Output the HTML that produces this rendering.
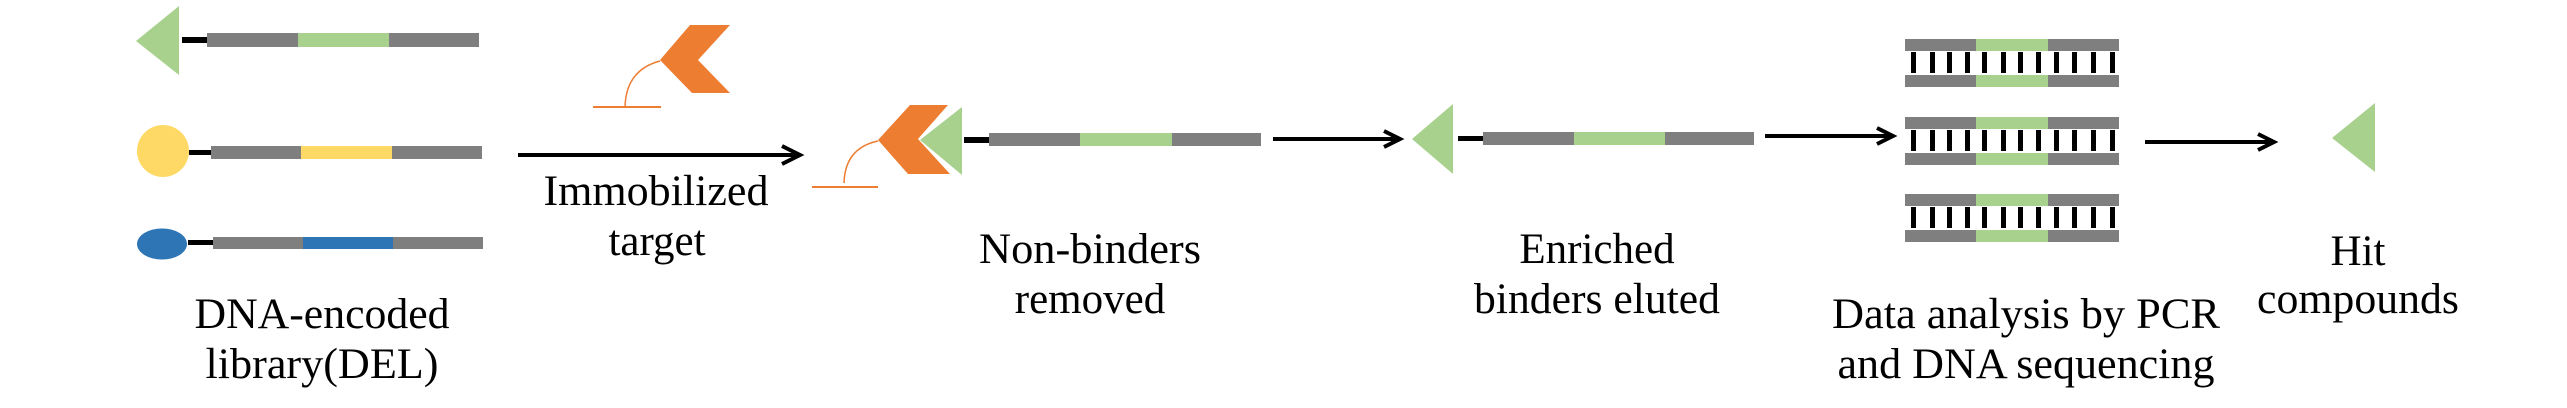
<!DOCTYPE html>
<html><head><meta charset="utf-8"><style>
html,body{margin:0;padding:0;background:#fff;}
svg{display:block;}
svg text{font-family:"Liberation Serif","Times New Roman",Times,"DejaVu Serif",serif !important;}
</style></head><body>
<svg width="2567" height="408" viewBox="0 0 2567 408" xmlns="http://www.w3.org/2000/svg">
<!-- Library -->
<polygon points="136,41 179,6 179,75" fill="#a9d18e"/>
<rect x="182" y="37" width="25" height="6" fill="#000"/>
<rect x="207" y="33" width="91" height="14" fill="#7f7f7f"/>
<rect x="298" y="33" width="91" height="14" fill="#a9d18e"/>
<rect x="389" y="33" width="90" height="14" fill="#7f7f7f"/>

<ellipse cx="163" cy="151" rx="26" ry="26" fill="#ffd966"/>
<rect x="189" y="150" width="22" height="5" fill="#000"/>
<rect x="211" y="146" width="90" height="13" fill="#7f7f7f"/>
<rect x="301" y="146" width="91" height="13" fill="#ffd966"/>
<rect x="392" y="146" width="90" height="13" fill="#7f7f7f"/>

<ellipse cx="162" cy="244" rx="25" ry="15.5" fill="#2e75b6"/>
<rect x="188" y="240" width="25" height="5" fill="#000"/>
<rect x="213" y="237" width="90" height="12" fill="#7f7f7f"/>
<rect x="303" y="237" width="90" height="12" fill="#2e75b6"/>
<rect x="393" y="237" width="90" height="12" fill="#7f7f7f"/>

<!-- Immobilized target -->
<polygon points="690,25 730,25 698,60 730,93 692,93 660,60" fill="#ed7d31"/>
<path d="M660,61 Q626,70 625,107" fill="none" stroke="#ed7d31" stroke-width="1.5"/>
<line x1="593" y1="107" x2="661" y2="107" stroke="#ed7d31" stroke-width="2"/>

<line x1="518" y1="155" x2="797" y2="155" stroke="#000" stroke-width="4"/>
<path d="M782,146 L800,155 L782,164" fill="none" stroke="#000" stroke-width="4"/>

<!-- Bound -->
<polygon points="910,105 948,105 918,139 950,174 908,174 878,140" fill="#ed7d31"/>
<polygon points="920,140 962,107 962,175" fill="#a9d18e"/>
<path d="M878,141 Q845,148 844,183" fill="none" stroke="#ed7d31" stroke-width="1.5"/>
<line x1="812" y1="187" x2="878" y2="187" stroke="#ed7d31" stroke-width="2"/>
<rect x="964" y="137" width="25" height="6" fill="#000"/>
<rect x="989" y="133" width="91" height="13" fill="#7f7f7f"/>
<rect x="1080" y="133" width="92" height="13" fill="#a9d18e"/>
<rect x="1172" y="133" width="89" height="13" fill="#7f7f7f"/>

<line x1="1273" y1="139" x2="1398" y2="139" stroke="#000" stroke-width="4"/>
<path d="M1384,131 L1400,139 L1384,147" fill="none" stroke="#000" stroke-width="4"/>

<!-- Eluted -->
<polygon points="1412,139 1453,104 1453,174" fill="#a9d18e"/>
<rect x="1458" y="136" width="25" height="5" fill="#000"/>
<rect x="1483" y="132" width="91" height="13" fill="#7f7f7f"/>
<rect x="1574" y="132" width="91" height="13" fill="#a9d18e"/>
<rect x="1665" y="132" width="89" height="13" fill="#7f7f7f"/>

<line x1="1765" y1="136" x2="1891" y2="136" stroke="#000" stroke-width="4"/>
<path d="M1877,128 L1893,136 L1877,144" fill="none" stroke="#000" stroke-width="4"/>

<!-- Duplexes -->
<g id="dup">
<rect x="1905" y="39" width="71" height="12" fill="#7f7f7f"/>
<rect x="1976" y="39" width="72" height="12" fill="#a9d18e"/>
<rect x="2048" y="39" width="71" height="12" fill="#7f7f7f"/>
<rect x="1905" y="75" width="71" height="12" fill="#7f7f7f"/>
<rect x="1976" y="75" width="72" height="12" fill="#a9d18e"/>
<rect x="2048" y="75" width="71" height="12" fill="#7f7f7f"/>
<g fill="#000">
<rect x="1911" y="52" width="5" height="21"/><rect x="1930" y="52" width="5" height="21"/>
<rect x="1947" y="52" width="5" height="21"/><rect x="1965" y="52" width="5" height="21"/>
<rect x="1982" y="52" width="5" height="21"/><rect x="2001" y="52" width="5" height="21"/>
<rect x="2018" y="52" width="5" height="21"/><rect x="2036" y="52" width="5" height="21"/>
<rect x="2054" y="52" width="5" height="21"/><rect x="2072" y="52" width="5" height="21"/>
<rect x="2091" y="52" width="5" height="21"/><rect x="2110" y="52" width="5" height="21"/>
</g>
</g>
<use href="#dup" transform="translate(0,78)"/>
<use href="#dup" transform="translate(0,155)"/>

<line x1="2145" y1="142" x2="2272" y2="142" stroke="#000" stroke-width="4"/>
<path d="M2258,134 L2274,142 L2258,150" fill="none" stroke="#000" stroke-width="4"/>

<polygon points="2332,138 2375,103 2375,172" fill="#a9d18e"/>

<g font-family="Liberation Serif, serif" font-size="43" fill="#000" text-anchor="middle">
<text x="322" y="328" textLength="255" lengthAdjust="spacingAndGlyphs">DNA-encoded</text>
<text x="322" y="378" textLength="233" lengthAdjust="spacingAndGlyphs">library(DEL)</text>
<text x="656" y="205" textLength="225" lengthAdjust="spacingAndGlyphs">Immobilized</text>
<text x="657" y="255">target</text>
<text x="1090" y="263" textLength="222" lengthAdjust="spacingAndGlyphs">Non-binders</text>
<text x="1090" y="313">removed</text>
<text x="1597" y="263">Enriched</text>
<text x="1597" y="313" textLength="246" lengthAdjust="spacingAndGlyphs">binders eluted</text>
<text x="2026" y="328" textLength="388" lengthAdjust="spacingAndGlyphs">Data analysis by PCR</text>
<text x="2026" y="378" textLength="377" lengthAdjust="spacingAndGlyphs">and DNA sequencing</text>
<text x="2358" y="265">Hit</text>
<text x="2358" y="313" textLength="202" lengthAdjust="spacingAndGlyphs">compounds</text>
</g>
</svg>
</body></html>
